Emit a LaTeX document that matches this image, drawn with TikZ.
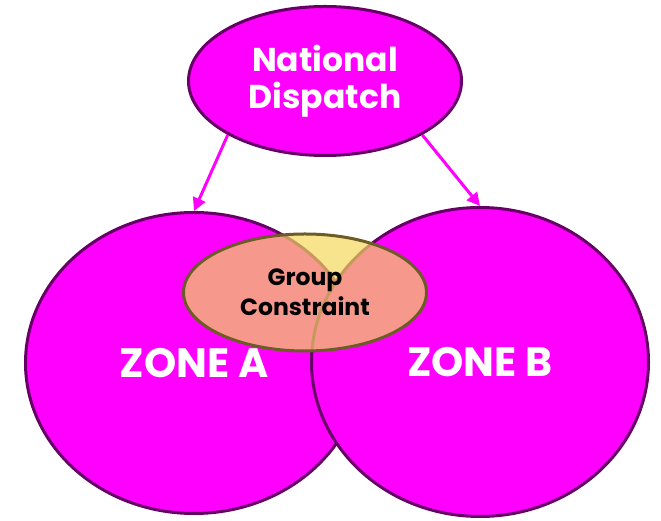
\documentclass[tikz,border=0pt]{standalone}
\usepackage{fontspec}
\setmainfont{Poppins}
\usetikzlibrary{arrows.meta,shapes.geometric}
\definecolor{zonefill}{HTML}{FF00FF}
\definecolor{zoneedge}{HTML}{660066}
\definecolor{grpfill}{HTML}{F4D95C}
\definecolor{grpedge}{HTML}{6E5C28}
\tikzset{
  zone/.style={ellipse,draw=zoneedge,fill=zonefill,line width=3pt,inner sep=0pt,align=center,text=white,font=\fontsize{41}{44}\selectfont\bfseries},
  hub/.style={zone,font=\fontsize{33}{37}\selectfont\bfseries},
  overlap/.style={ellipse,draw=grpedge,fill=grpfill,fill opacity=0.7,text opacity=1,line width=3pt,inner sep=0pt,align=center,text=black,font=\fontsize{23.5}{30}\selectfont\bfseries},
  arrow/.style={-{Triangle[length=13pt,width=13pt]},line width=3pt,color=zonefill},
}

\begin{document}
\begin{tikzpicture}[x=1pt,y=1pt]
    \useasboundingbox (0,0) rectangle (661,521);
    % zones
    \node[zone,minimum width=337pt,minimum height=301pt] (zoneA) at (194,158) {ZONE A};
    \node[zone,minimum width=337pt,minimum height=309pt] (zoneB) at (480,159) {ZONE B};
    \node[overlap,minimum width=243pt,minimum height=117pt] (grp) at (305,228.5) {Group\\Constraint};
    % dispatch
    \node[hub,minimum width=273pt,minimum height=149pt] (nat) at (325,440) {National\\Dispatch};
    \draw[arrow] (nat.209) -- (zoneA.north);
    \draw[arrow] (nat.331) -- (zoneB.north);
  \end{tikzpicture}
\end{document}
